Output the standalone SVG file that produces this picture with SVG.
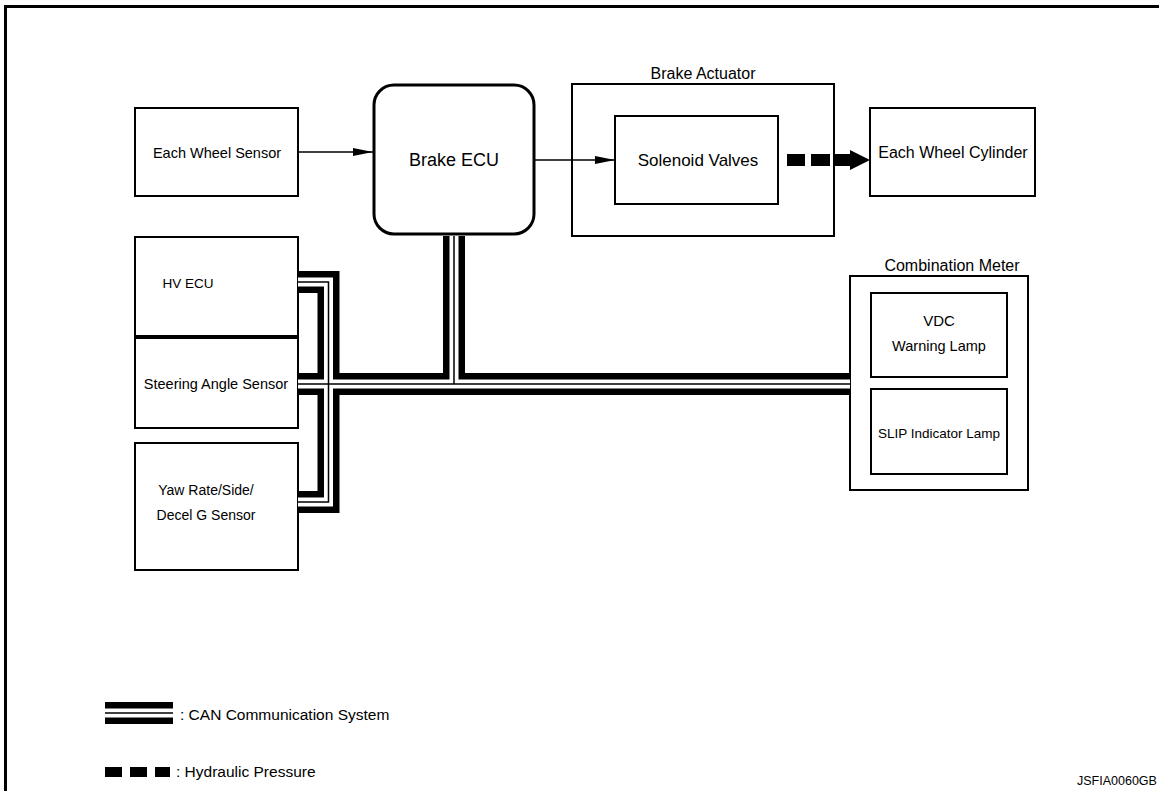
<svg xmlns="http://www.w3.org/2000/svg" width="1159" height="791" viewBox="0 0 1159 791">
<defs>
<style>
.box{fill:#fff;stroke:#000;stroke-width:2}
.t{font-family:"Liberation Sans",Arial,sans-serif;fill:#000;text-anchor:middle}
.bo{fill:none;stroke:#000;stroke-width:22;stroke-linejoin:miter}
.bw{fill:none;stroke:#fff;stroke-width:9;stroke-linejoin:miter}
.bc{fill:none;stroke:#000;stroke-width:1.5;stroke-linejoin:miter}
.ln{fill:none;stroke:#000;stroke-width:1.6}
</style>
<marker id="ah" markerWidth="20" markerHeight="10" refX="20" refY="5" orient="auto" markerUnits="userSpaceOnUse">
<path d="M0,1 L20,5 L0,9 Z" fill="#000"/>
</marker>
</defs>
<rect width="1159" height="791" fill="#fff"/>
<rect x="5.5" y="6.5" width="1170" height="800" fill="none" stroke="#000" stroke-width="3"/>

<g id="each-wheel-sensor">
<rect class="box" x="135" y="108" width="163" height="88"/>
<text class="t" x="217" y="158" font-size="14.5">Each Wheel Sensor</text>
</g>
<g id="brake-ecu">
<rect x="374" y="85" width="160" height="149" rx="20" fill="#fff" stroke="#000" stroke-width="3"/>
<text class="t" x="454" y="166" font-size="18">Brake ECU</text>
</g>
<g id="brake-actuator">
<rect class="box" x="572" y="84" width="262" height="152"/>
<text class="t" x="703" y="79" font-size="16">Brake Actuator</text>
</g>
<g id="solenoid-valves">
<rect class="box" x="615" y="116" width="163" height="88"/>
<text class="t" x="698" y="166" font-size="17">Solenoid Valves</text>
</g>
<g id="each-wheel-cylinder">
<rect class="box" x="870" y="108" width="165" height="88"/>
<text class="t" x="953" y="158" font-size="16">Each Wheel Cylinder</text>
</g>
<g id="hv-ecu">
<rect class="box" x="135" y="237" width="163" height="99"/>
<text class="t" x="188" y="288" font-size="13.5">HV ECU</text>
</g>
<g id="steering-angle-sensor">
<rect class="box" x="135" y="338" width="163" height="90"/>
<text class="t" x="216" y="389" font-size="14.5">Steering Angle Sensor</text>
</g>
<g id="yaw-rate-sensor">
<rect class="box" x="135" y="443" width="163" height="127"/>
<text class="t" x="206" y="495" font-size="14">Yaw Rate/Side/</text>
<text class="t" x="206" y="520" font-size="14">Decel G Sensor</text>
</g>
<g id="combination-meter">
<rect class="box" x="850" y="276" width="178" height="214"/>
<text class="t" x="952" y="271" font-size="16">Combination Meter</text>
</g>
<g id="vdc-warning-lamp">
<rect class="box" x="871" y="293" width="136" height="84"/>
<text class="t" x="939" y="326" font-size="15">VDC</text>
<text class="t" x="939" y="351" font-size="14.5">Warning Lamp</text>
</g>
<g id="slip-indicator-lamp">
<rect class="box" x="871" y="389" width="136" height="85"/>
<text class="t" x="939" y="438" font-size="13.5">SLIP Indicator Lamp</text>
</g>

<g id="connectors">
<g id="can-bus">
<path class="bo" d="M298,282 H328.5 V502 H298 M298,384 H850 M454,236 V384"/>
<path class="bw" d="M298,282 H328.5 V502 H298 M298,384 H850 M454,236 V384"/>
<path class="bc" d="M298,282 H328.5 V502 H298 M298,384 H850 M454,236 V384"/>
</g>
<line class="ln" x1="298" y1="152" x2="373" y2="152" marker-end="url(#ah)"/>
<line class="ln" x1="535" y1="160" x2="615" y2="160" marker-end="url(#ah)"/>
<g id="hydraulic">
<rect x="787" y="154" width="18" height="12"/>
<rect x="811" y="154" width="19" height="12"/>
<path d="M833,154 H850 V150 L870,160 L850,170 V166 H833 Z"/>
</g>
</g>

<g id="legend">
<path class="bo" d="M105,713 H173"/>
<path class="bw" d="M105,713 H173"/>
<path class="bc" d="M105,713 H173"/>
<text x="180" y="720" font-family="Liberation Sans,Arial,sans-serif" font-size="15.5">: CAN Communication System</text>
<rect x="105" y="767" width="17" height="10"/>
<rect x="130" y="767" width="17" height="10"/>
<rect x="155" y="767" width="15" height="10"/>
<text x="176" y="777" font-family="Liberation Sans,Arial,sans-serif" font-size="15.5">: Hydraulic Pressure</text>
</g>
<text x="1077" y="785" font-family="Liberation Sans,Arial,sans-serif" font-size="12.5">JSFIA0060GB</text>
</svg>
